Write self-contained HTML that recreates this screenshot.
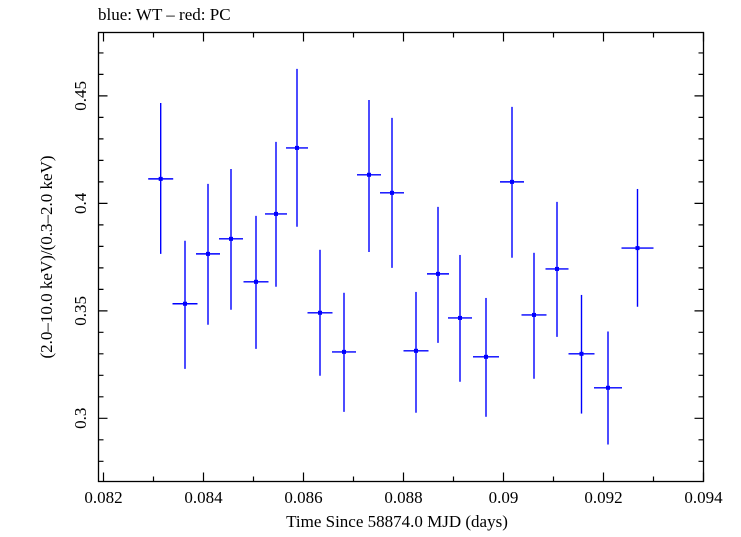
<!DOCTYPE html>
<html><head><meta charset="utf-8"><style>
html,body{margin:0;padding:0;background:#fff}
svg text{font-family:"Liberation Serif",serif;fill:#000}
</style></head><body>
<svg id="chart" width="741" height="532" xmlns="http://www.w3.org/2000/svg">
<text x="98" y="20" font-size="17">blue: WT – red: PC</text>
<rect x="98.5" y="32.5" width="605" height="449" fill="none" stroke="#000" stroke-width="1.3"/>
<g id="axes"></g>
<g id="series"></g>
<text x="397" y="527" font-size="17" text-anchor="middle">Time Since 58874.0 MJD (days)</text>
<text transform="translate(52,257) rotate(-90)" font-size="17" text-anchor="middle">(2.0–10.0 keV)/(0.3–2.0 keV)</text>
</svg>
<script>
const xVals=[0.083144,0.08363,0.08409,0.08455,0.08505,0.08545,0.08587,0.08633,0.08681,0.08731,0.08777,0.08825,0.08869,0.08913,0.08965,0.09017,0.09061,0.09107,0.09156,0.09209,0.09268];
const xErr=[0.00025,0.00025,0.00024,0.00024,0.00025,0.00022,0.00022,0.00025,0.00024,0.00024,0.00024,0.00025,0.00022,0.00024,0.00026,0.00024,0.00025,0.00023,0.00026,0.00028,0.00032];
const yVals=[0.4114,0.3533,0.3765,0.3835,0.3635,0.3951,0.4258,0.3491,0.3309,0.4133,0.4049,0.3314,0.3672,0.3467,0.3286,0.4100,0.3481,0.3695,0.3300,0.3142,0.3792];
const yHi=[0.4467,0.3826,0.4091,0.4160,0.3942,0.4286,0.4626,0.3784,0.3584,0.4481,0.4398,0.3588,0.3984,0.3760,0.3560,0.4449,0.3770,0.4007,0.3574,0.3404,0.4067];
const yLo=[0.3765,0.3230,0.3435,0.3505,0.3323,0.3612,0.3891,0.3198,0.3030,0.3774,0.3700,0.3026,0.3351,0.3170,0.3007,0.3747,0.3184,0.3379,0.3022,0.2878,0.3519];
const xTicks=[0.082,0.084,0.086,0.088,0.09,0.092,0.094];
const xTickLabels=["0.082","0.084","0.086","0.088","0.09","0.092","0.094"];
const yTicks=[0.3,0.35,0.4,0.45];
const yTickLabels=["0.3","0.35","0.4","0.45"];
const X0=98.5,X1=703.5,Y0=481.5,Y1=32.5,xmin=0.0819,xmax=0.0940,ymin=0.2706,ymax=0.4795;
const sx=v=>X0+(v-xmin)/(xmax-xmin)*(X1-X0);
const sy=v=>Y0-(v-ymin)/(ymax-ymin)*(Y0-Y1);
const NS="http://www.w3.org/2000/svg";
const axes=document.getElementById('axes'),ser=document.getElementById('series');
function mk(tag,attrs,parent){const e=document.createElementNS(NS,tag);for(const k in attrs)e.setAttribute(k,attrs[k]);parent.appendChild(e);return e;}
// x minor ticks
for(let i=0;i<=13;i++){const v=0.082+i*0.001;if(v>xmax+1e-9)break;const x=sx(v);const major=i%2===0;const L=major?9:5;
const t=mk('path',{d:`M${x},${Y0}v${-L}M${x},${Y1}v${L}`,stroke:'#000','stroke-width':1.2},axes);

}
xTicks.forEach((v,i)=>{const t=mk('text',{x:sx(v),y:503,'font-size':17,'text-anchor':'middle'},axes);t.textContent=xTickLabels[i];

});
// y ticks every 0.01
for(let i=0;i<=25;i++){const v=0.27+i*0.01;if(v<ymin||v>ymax)continue;const y=sy(v);const major=Math.abs((v*100)%5)<1e-6||Math.abs((v*100)%5-5)<1e-6;const L=major?9:5;
const t=mk('path',{d:`M${X0},${y}h${L}M${X1},${y}h${-L}`,stroke:'#000','stroke-width':1.2},axes);

}
yTicks.forEach((v,i)=>{const y=sy(v);const t=mk('text',{transform:`translate(86,${y}) rotate(-90)`,'font-size':17,'text-anchor':'middle'},axes);t.textContent=yTickLabels[i];

});
// series
xVals.forEach((xv,i)=>{const g=mk('g',{},ser);


const x=sx(xv),y=sy(yVals[i]);
mk('line',{x1:x,x2:x,y1:sy(yHi[i]),y2:sy(yLo[i]),stroke:'#0000ff','stroke-width':1.4},g);
mk('line',{x1:sx(xv-xErr[i]),x2:sx(xv+xErr[i]),y1:y,y2:y,stroke:'#0000ff','stroke-width':1.4},g);
mk('rect',{x:x-2,y:y-2,width:4,height:4,fill:'#0000ff'},g);});
</script>
</body></html>
